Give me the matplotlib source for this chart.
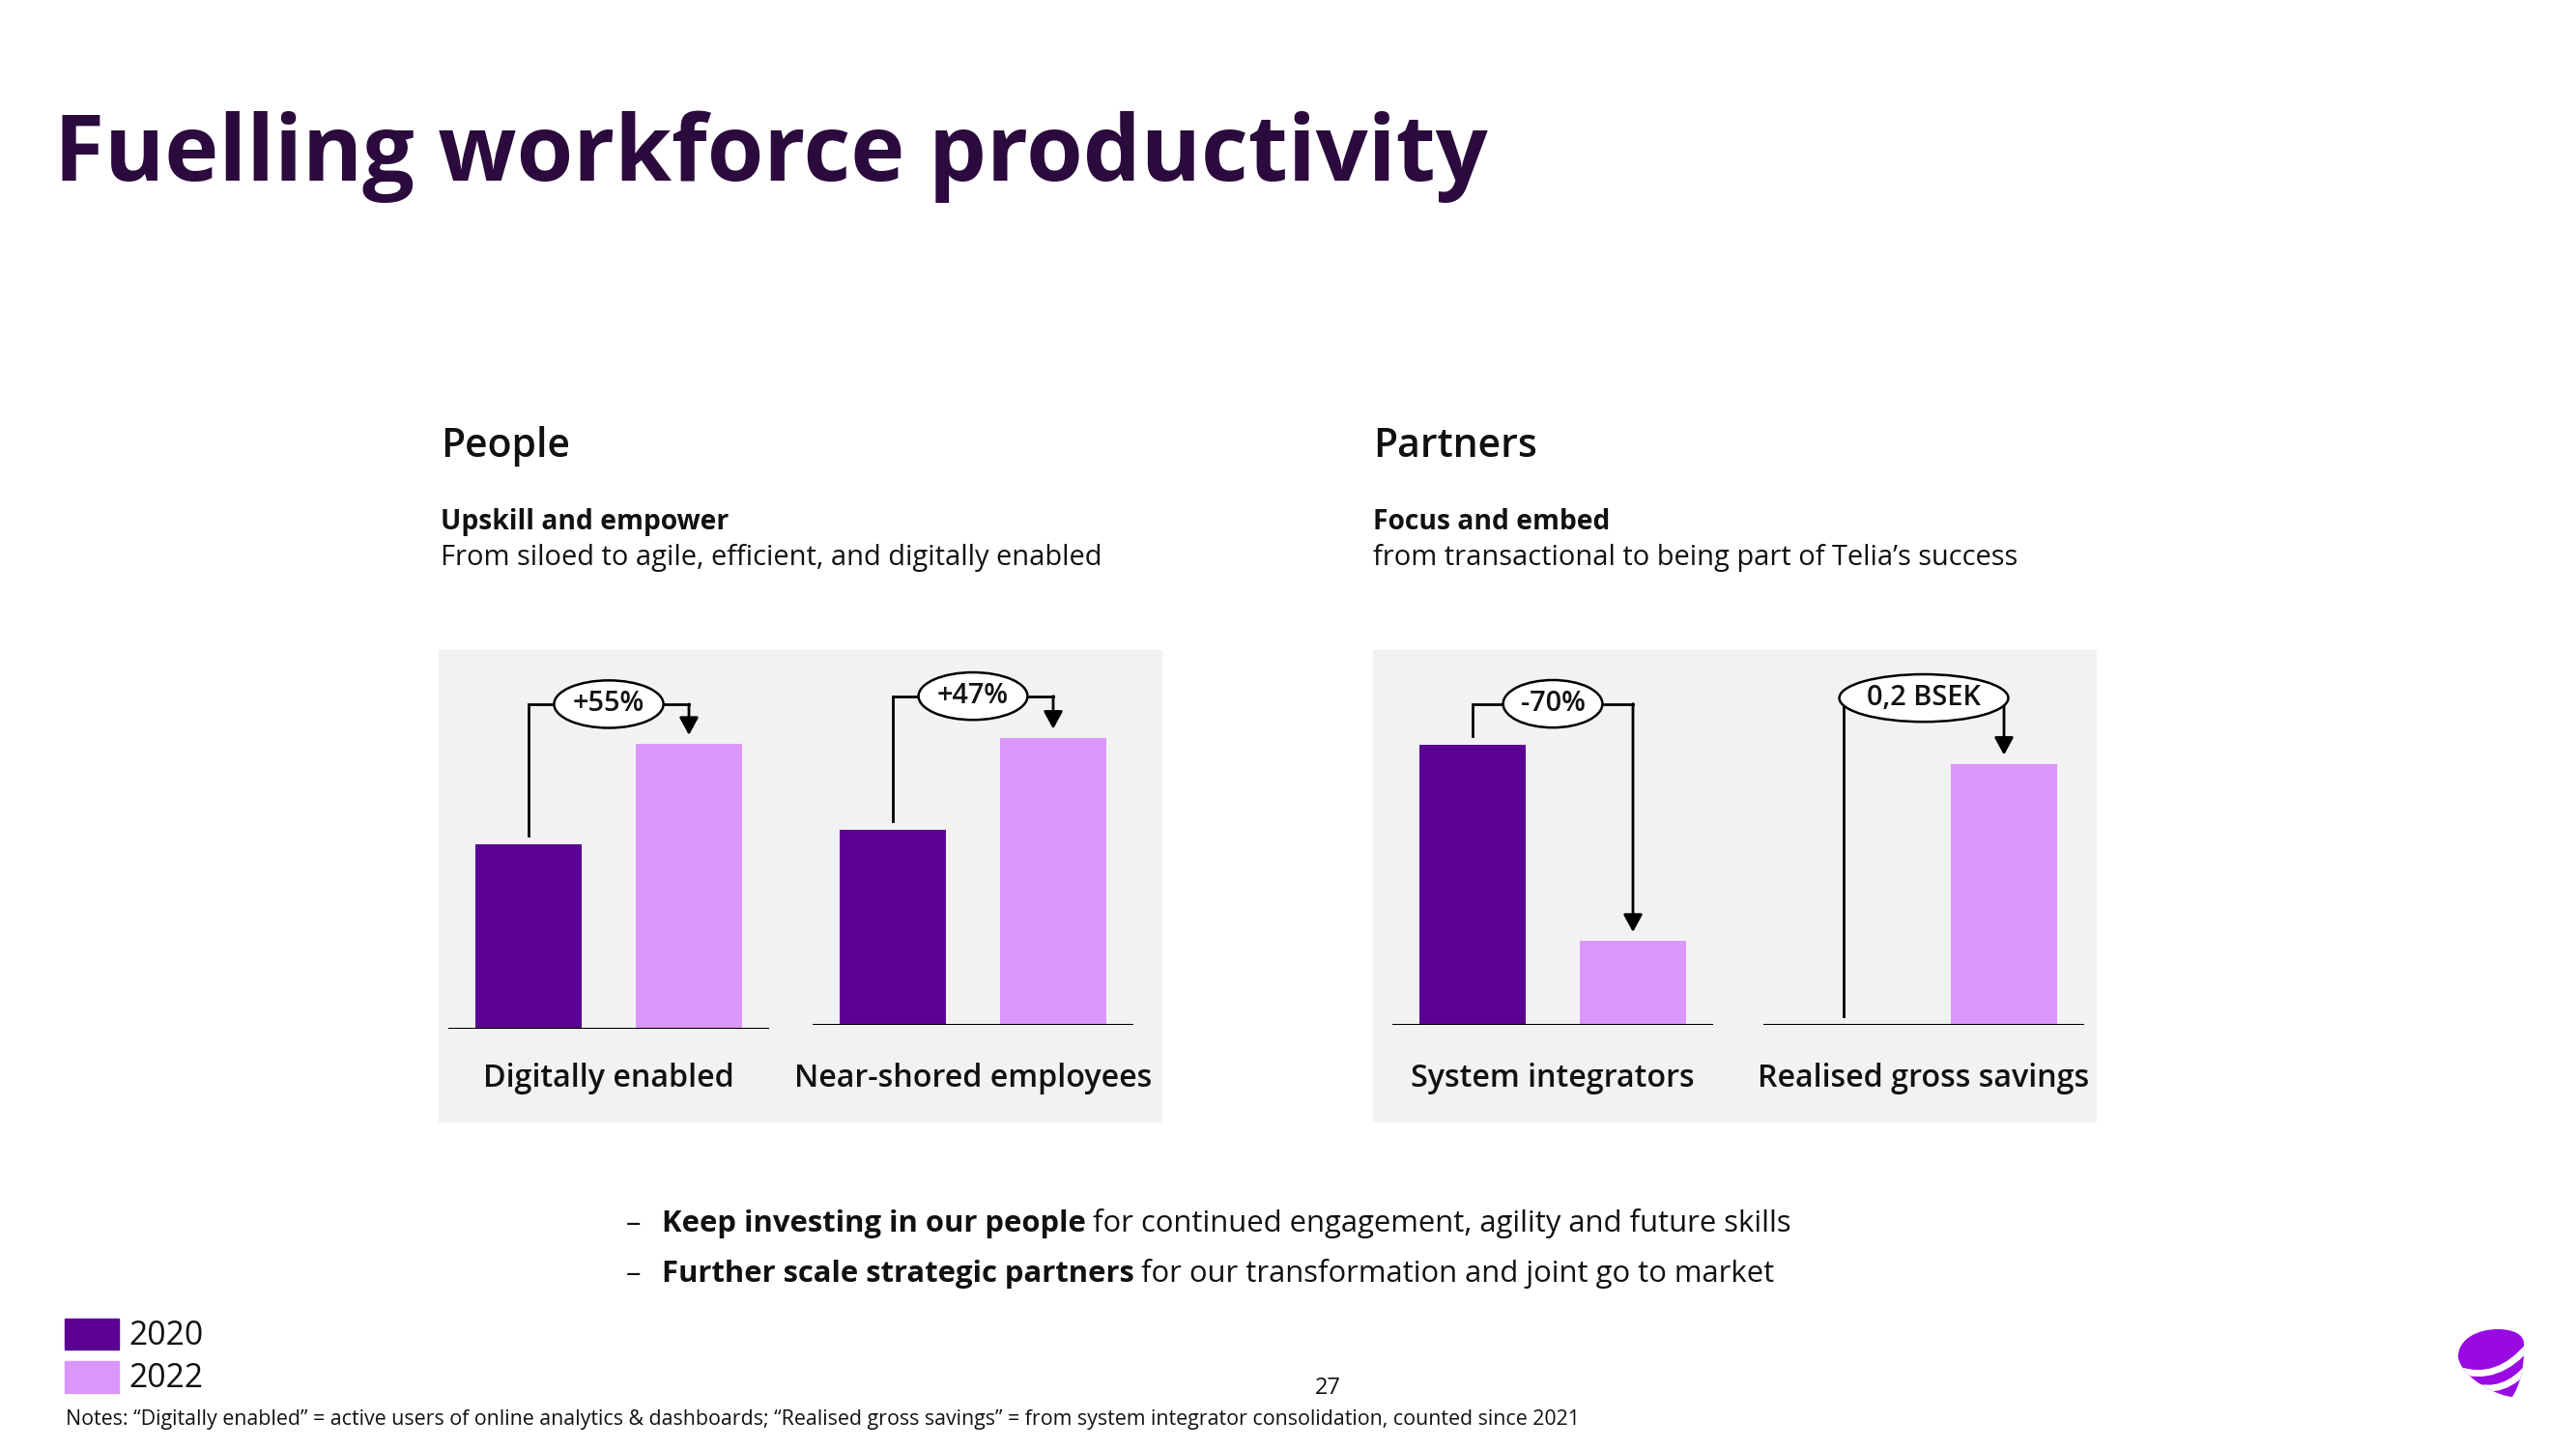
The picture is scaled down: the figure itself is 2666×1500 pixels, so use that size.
import matplotlib
matplotlib.use("Agg")
import matplotlib.pyplot as plt
from matplotlib.patches import Rectangle, PathPatch
from matplotlib.path import Path

# ---------------- data ----------------
title = "Fuelling workforce productivity"
years = ["2020", "2022"]
sections = ["People", "Partners"]
sub_bold = ["Upskill and empower", "Focus and embed"]
sub_regular = ["From siloed to agile, efficient, and digitally enabled",
               "from transactional to being part of Telia\u2019s success"]
categories = ["Digitally enabled", "Near-shored employees",
              "System integrators", "Realised gross savings"]
values_2020 = [100, 100, 100, 0.0]      # indexed 2020 = 100 ; savings in BSEK
values_2022 = [155, 147, 30, 0.2]
change_labels = ["+55%", "+47%", "-70%", "0,2 BSEK"]
bullets_bold = ["Keep investing in our people", "Further scale strategic partners"]
bullets_regular = ["for continued engagement, agility and future skills",
                   "for our transformation and joint go to market"]
note = ("Notes: \u201cDigitally enabled\u201d = active users of online analytics & dashboards; "
        "\u201cRealised gross savings\u201d = from system integrator consolidation, counted since 2021")
page_number = "27"

# ---------------- style ----------------
C_DARK = "#5B0093"
C_LIGHT = "#DA96FA"
C_TITLE = "#2B0A3D"
C_BOX = "#F2F2F2"
C_TEXT = "#111111"
FONT = "Open Sans"
plt.rcParams["font.family"] = [FONT, "DejaVu Sans"]

W, H = 2666, 1500
fig = plt.figure(figsize=(W / 100, H / 100), dpi=100)
fig.patch.set_facecolor("white")
renderer = fig.canvas.get_renderer()


def fx(x):
    return x / W


def fy(y):
    return 1 - y / H


def fit_group(texts, target_px):
    w = sum(t.get_window_extent(renderer).width for t in texts)
    f = target_px / w
    for t in texts:
        t.set_fontsize(t.get_fontsize() * f)


# gray panels
for x0 in (454, 1421):
    fig.add_artist(Rectangle((fx(x0), fy(1161)), 748 / W, (1161 - 673) / H,
                             transform=fig.transFigure, color=C_BOX, zorder=-5))

# title and headings
t_title = fig.text(fx(56), fy(187), title, fontsize=60, fontweight="bold",
                   color=C_TITLE, va="baseline")
fit_group([t_title], 1485)
heads, subs_b, subs_r = [], [], []
for x0, s, sb, sr in zip((456, 1421), sections, sub_bold, sub_regular):
    heads.append(fig.text(fx(x0), fy(473), s, fontsize=24, fontweight="semibold",
                          color=C_TEXT, va="baseline"))
    subs_b.append(fig.text(fx(x0), fy(548), sb, fontsize=16, fontweight="bold",
                           color=C_TEXT, va="baseline"))
    subs_r.append(fig.text(fx(x0), fy(585), sr, fontsize=16, color=C_TEXT, va="baseline"))
fit_group(heads, 136 + 169)
fit_group(subs_b, 296 + 249)
fit_group(subs_r, 685 + 667)

# chart axes layout (pixels)
ax_left = [464, 841, 1441, 1825]
ax_base = [1064.5, 1061, 1061, 1061]
ax_top = 673
ax_w = 332
ymax = [206, 191.8, 133.6, 0.287]
level_px = [41, 43, 42, 68]
gap_px = 9
bar_w = 0.665

cat_texts, chg_texts = [], []
for i in range(4):
    hpx = ax_base[i] - ax_top
    ax = fig.add_axes([fx(ax_left[i]), fy(ax_base[i]), ax_w / W, hpx / H])
    ax.set_xlim(-0.5, 1.5)
    ax.set_ylim(0, ymax[i])
    ax.axis("off")
    d = lambda p, i=i, hpx=hpx: p * ymax[i] / hpx
    v0, v1 = values_2020[i], values_2022[i]
    ax.bar([0, 1], [v0, v1], width=bar_w, color=[C_DARK, C_LIGHT], zorder=2)
    ax.axhline(0, color="black", lw=1.5, zorder=3)
    level = max(v0, v1) + d(level_px[i])
    ax.plot([0, 0, 1], [v0 + d(gap_px), level, level], color="black", lw=2,
            solid_capstyle="projecting", solid_joinstyle="miter", clip_on=False, zorder=3)
    ax.annotate("", xy=(1, v1 + d(gap_px)), xytext=(1, level),
                arrowprops=dict(arrowstyle="-|>,head_length=0.55,head_width=0.3",
                                mutation_scale=20, lw=2, color="black",
                                shrinkA=0, shrinkB=0), zorder=3)
    chg_texts.append(ax.text(0.5, level, change_labels[i], ha="center", va="center",
                             fontsize=18, fontweight="semibold", color=C_TEXT, zorder=5,
                             bbox=dict(boxstyle="ellipse,pad=0.1", fc="white", ec="black",
                                       lw=1.8)))
    cat_texts.append(fig.text(fx(ax_left[i] + ax_w / 2), fy(1125), categories[i],
                              ha="center", va="baseline", fontsize=20,
                              fontweight="semibold", color=C_TEXT))
fit_group(cat_texts, 258 + 369 + 291 + 347)
fit_group(chg_texts[:1], 74)
for t in chg_texts[1:]:
    t.set_fontsize(chg_texts[0].get_fontsize())

# bullets
b_parts = []
dashes = []
for yb, b, r in zip((1275, 1327), bullets_bold, bullets_regular):
    dashes.append(fig.text(fx(648), fy(yb), "\u2013", fontsize=18, color=C_TEXT,
                           va="baseline"))
    tb = fig.text(fx(685), fy(yb), b, fontsize=18, fontweight="bold", color=C_TEXT,
                  va="baseline")
    tr = fig.add_artist(plt.Annotation(r, xy=(1, 0), xycoords=tb, xytext=(5, 0),
                                       textcoords="offset points", fontsize=18,
                                       color=C_TEXT, va="bottom", ha="left"))
    b_parts.append((tb, tr))
for _ in range(2):
    tot = sum(tr.get_window_extent(renderer).x1 - tb.get_window_extent(renderer).x0
              for tb, tr in b_parts)
    f = (1180 + 1145) / tot
    for tb, tr in b_parts:
        tb.set_fontsize(tb.get_fontsize() * f)
        tr.set_fontsize(tr.get_fontsize() * f)
for dsh in dashes:
    dsh.set_fontsize(b_parts[0][0].get_fontsize())

# legend
leg_texts = []
for (y0, y1), c, lab in zip(((1365, 1397), (1409, 1442)), (C_DARK, C_LIGHT), years):
    fig.add_artist(Rectangle((fx(67), fy(y1)), 56 / W, (y1 - y0) / H,
                             transform=fig.transFigure, color=c))
    leg_texts.append(fig.text(fx(133), fy((y0 + y1) / 2 + 2), lab, fontsize=20,
                              color=C_TEXT, va="center"))
fit_group(leg_texts, 77 * 2)

fig.text(fx(1374), fy(1437), page_number, fontsize=17, color=C_TEXT, ha="center", va="center")
t_note = fig.text(fx(68), fy(1475), note, fontsize=13, color=C_TEXT, va="baseline")
fit_group([t_note], 1554)

# logo
lax = fig.add_axes([fx(2536), fy(1452), 84 / W, 84 / H])
lax.set_xlim(2536, 2620)
lax.set_ylim(1452, 1368)
lax.axis("off")
L, T, R, B = (2544, 1405), (2585, 1376), (2612, 1392), (2600, 1446)
verts = [L, (2544, 1386), (2564, 1376), T, (2600, 1376), (2613, 1381), R,
         (2613, 1416), (2607, 1436), B, (2588, 1446), (2548, 1428), L, L]
codes = [Path.MOVETO] + [Path.CURVE4] * 12 + [Path.CLOSEPOLY]
pebble = PathPatch(Path(verts, codes), fc="#990AE3", ec="none")
lax.add_patch(pebble)
for p in ([(2544, 1418), (2585, 1432), (2618, 1392)],
          [(2556, 1434), (2592, 1446), (2618, 1413)]):
    sp = PathPatch(Path(p, [Path.MOVETO, Path.CURVE3, Path.CURVE3]), fc="none",
                   ec="white", lw=5)
    lax.add_patch(sp)
    sp.set_clip_path(pebble)

fig.savefig("out.png", dpi=100, facecolor="white")
